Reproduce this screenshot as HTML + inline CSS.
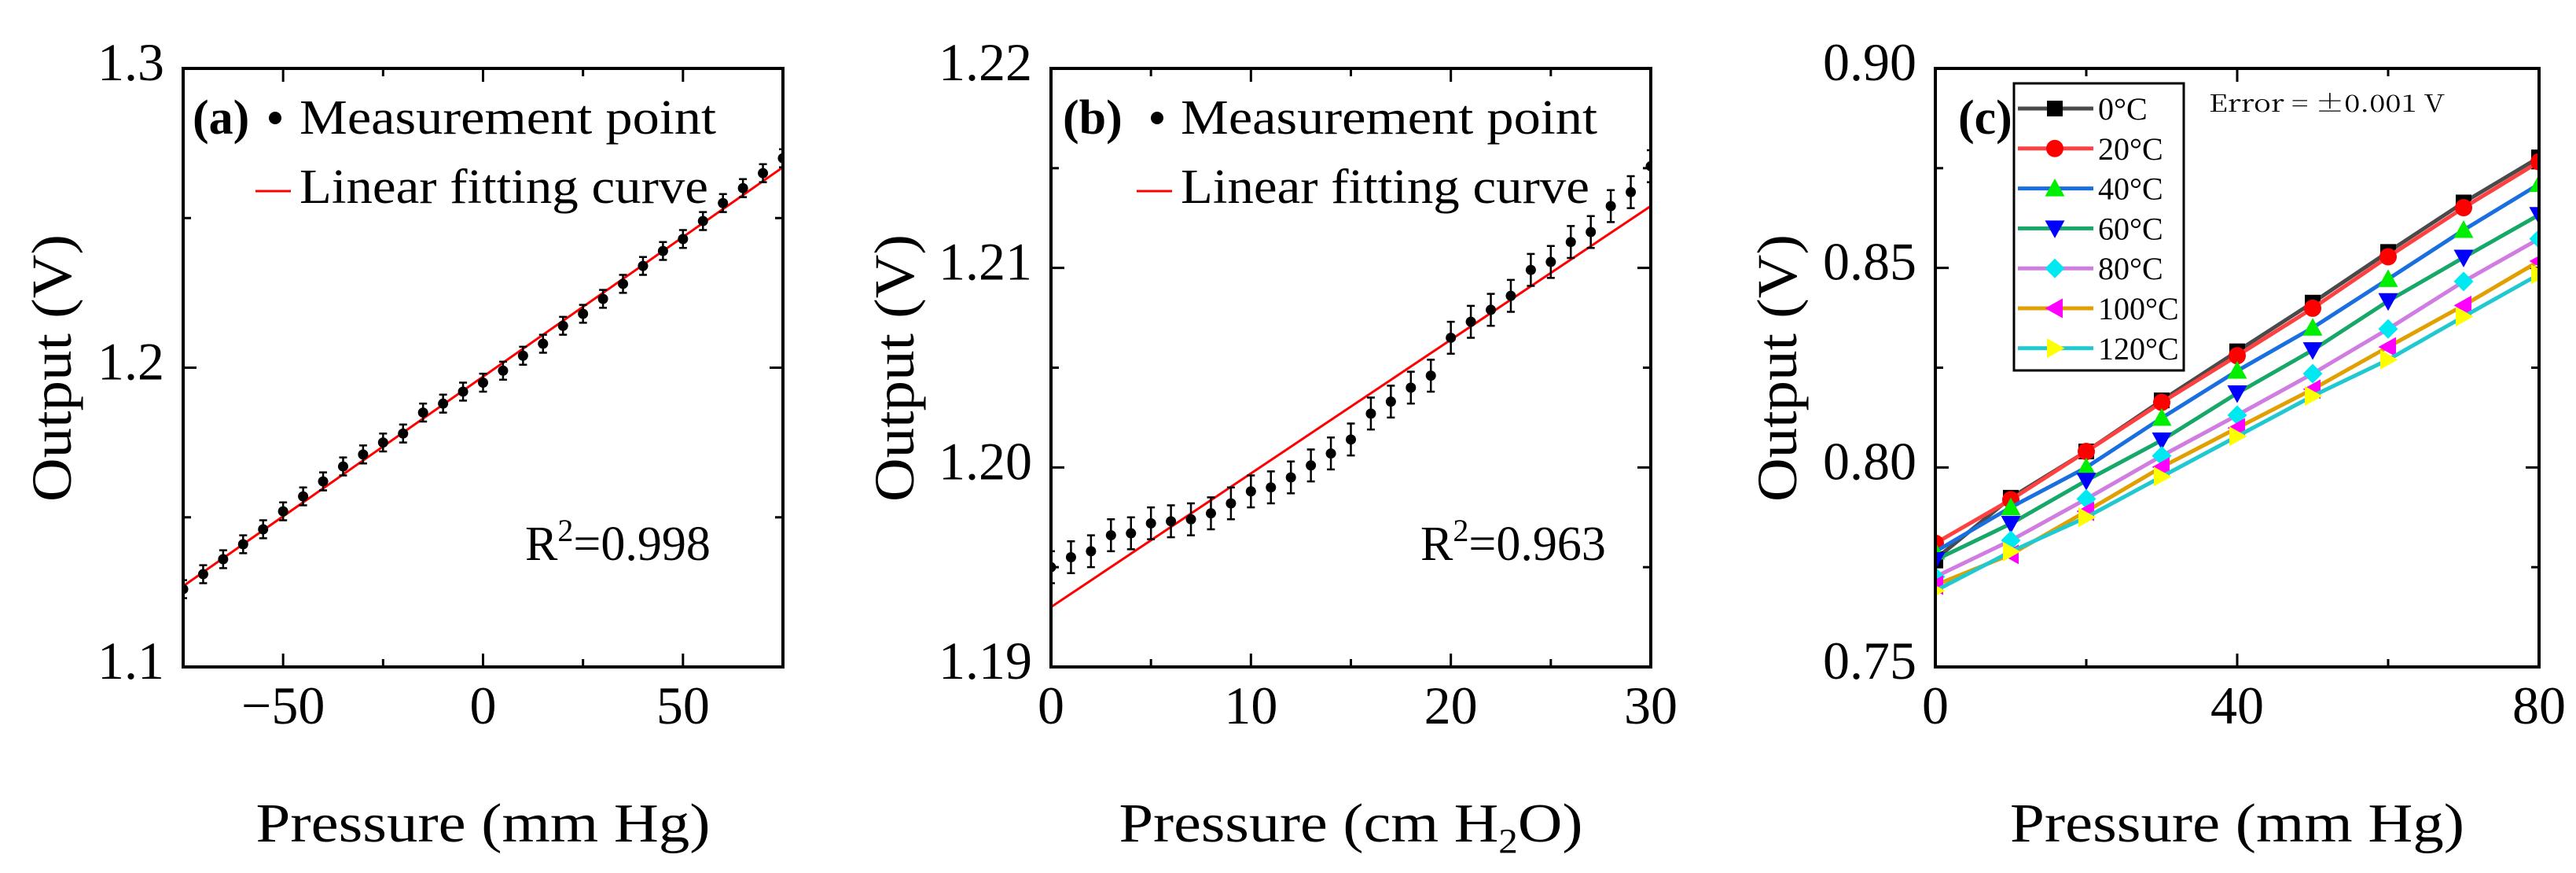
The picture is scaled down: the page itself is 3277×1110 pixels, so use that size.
<!DOCTYPE html>
<html><head><meta charset="utf-8">
<style>
html,body{margin:0;padding:0;background:#fff;}
svg{display:block;}
text{font-family:"Liberation Serif",serif;fill:#000;}
</style></head>
<body>
<svg id="fig" width="3277" height="1110" viewBox="0 0 3277 1110" xmlns="http://www.w3.org/2000/svg"></svg>
<script>
// ---- Panel (a) data ----
const aX = [-75,-70,-65,-60,-55,-50,-45,-40,-35,-30,-25,-20,-15,-10,-5,0,5,10,15,20,25,30,35,40,45,50,55,60,65,70,75];
const aY = [1.126,1.131,1.136,1.141,1.146,1.152,1.157,1.162,1.167,1.171,1.175,1.178,1.185,1.188,1.192,1.195,1.199,1.204,1.208,1.214,1.218,1.223,1.228,1.234,1.239,1.243,1.249,1.255,1.260,1.265,1.270];
const aErr = 0.003;
const aFitX = [-75,75];
const aFitY = [1.127,1.267];
const aXTicks = [-50,0,50];
const aXTickLabels = ["\u221250","0","50"];
const aYTicks = [1.1,1.2,1.3];
const aYTickLabels = ["1.1","1.2","1.3"];
// ---- Panel (b) data ----
const bX = [0,1,2,3,4,5,6,7,8,9,10,11,12,13,14,15,16,17,18,19,20,21,22,23,24,25,26,27,28,29,30];
const bY = [1.1950,1.1955,1.1958,1.1966,1.1967,1.1972,1.1973,1.1974,1.1977,1.1982,1.1988,1.1990,1.1995,1.2001,1.2007,1.2014,1.2027,1.2033,1.2040,1.2046,1.2065,1.2073,1.2079,1.2086,1.2099,1.2103,1.2113,1.2118,1.2131,1.2138,1.2151];
const bErr = 0.0008;
const bFitX = [0,30];
const bFitY = [1.1930,1.2131];
const bXTicks = [0,10,20,30];
const bXTickLabels = ["0","10","20","30"];
const bYTicks = [1.19,1.20,1.21,1.22];
const bYTickLabels = ["1.19","1.20","1.21","1.22"];
// ---- Panel (c) data ----
const cX = [0,10,20,30,40,50,60,70,80];
const cNames = ["0\u00B0C","20\u00B0C","40\u00B0C","60\u00B0C","80\u00B0C","100\u00B0C","120\u00B0C"];
const c0 = [0.777,0.7924,0.804,0.8168,0.8291,0.8413,0.854,0.8664,0.8777];
const c20 = [0.781,0.7919,0.804,0.8163,0.828,0.8399,0.8528,0.8651,0.8766];
const c40 = [0.7789,0.790,0.800,0.8124,0.8242,0.835,0.8472,0.8595,0.871];
const c60 = [0.7768,0.7859,0.7967,0.8068,0.8186,0.8294,0.8417,0.8526,0.8633];
const c80 = [0.7726,0.7817,0.7921,0.8029,0.8131,0.8235,0.8347,0.8466,0.8573];
const c100 = [0.7705,0.7782,0.789,0.8001,0.8099,0.8196,0.8302,0.8406,0.8517];
const c120 = [0.7691,0.7789,0.7875,0.7977,0.8078,0.8179,0.827,0.8378,0.8484];
const cXTicks = [0,40,80];
const cXTickLabels = ["0","40","80"];
const cYTicks = [0.75,0.80,0.85,0.90];
const cYTickLabels = ["0.75","0.80","0.85","0.90"];

const NS = "http://www.w3.org/2000/svg";
const svg = document.getElementById('fig');
function mk(tag, attrs, parent, txt){
  const e = document.createElementNS(NS, tag);
  for (const k in attrs) e.setAttribute(k, attrs[k]);
  if (txt !== undefined) e.textContent = txt;
  (parent||svg).appendChild(e);
  return e;
}
function lin(d0,d1,r0,r1){ return v => r0 + (v-d0)/(d1-d0)*(r1-r0); }

function panel(p){
  const g = mk('g',{});
  
  
  const sx = lin(p.xd[0],p.xd[1],p.L,p.R), sy = lin(p.yd[0],p.yd[1],p.B,p.T);
  // ticks
  const tg = mk('g',{stroke:'#000','stroke-width':3},g);
  
  
  for (let v=p.xd[0]; v<=p.xd[1]+1e-9; v+=p.xminor){
    const major = p.xTicks.some(t=>Math.abs(t-v)<1e-9);
    const len = major?17:10, x=sx(v);
    mk('line',{x1:x,x2:x,y1:p.B,y2:p.B-len},tg);
    mk('line',{x1:x,x2:x,y1:p.T,y2:p.T+len},tg);
  }
  for (let v=p.yd[0]; v<=p.yd[1]+1e-9; v+=p.yminor){
    const major = p.yTicks.some(t=>Math.abs(t-v)<1e-9);
    const len = major?17:10, y=sy(v);
    mk('line',{x1:p.L,x2:p.L+len,y1:y,y2:y},tg);
    mk('line',{x1:p.R,x2:p.R-len,y1:y,y2:y},tg);
  }
  // tick labels
  p.xTicks.forEach((t,i)=>{
    const e = mk('text',{x:sx(t),y:920,'font-size':68,'text-anchor':'middle'},g,p.xLabels[i]);
    
    
  });
  p.yTicks.forEach((t,i)=>{
    const e = mk('text',{x:p.L-24,y:sy(t)+15,'font-size':68,'text-anchor':'end'},g,p.yLabels[i]);
    
    
  });
  // axis titles
  const xt = mk('text',{x:(p.L+p.R)/2,y:1070,'font-size':70,'text-anchor':'middle',textLength:578,lengthAdjust:'spacingAndGlyphs'},g);
  
  
  if (p.h2o){
    xt.setAttribute('textLength', 590);
    mk('tspan',{},xt,'Pressure (cm H');
    mk('tspan',{'font-size':44,dy:14},xt,'2');
    mk('tspan',{dy:-14},xt,'O)');
  } else xt.textContent = 'Pressure (mm Hg)';
  const yt = mk('text',{x:0,y:0,'font-size':72,'text-anchor':'middle',textLength:340,lengthAdjust:'spacingAndGlyphs',transform:`translate(${p.ytx},468) rotate(-90)`},g,'Output (V)');
  
  
  // clip
  const cid = 'clip'+p.name;
  const cp = mk('clipPath',{id:cid},g);
  mk('rect',{x:p.L,y:p.T,width:p.R-p.L,height:p.B-p.T},cp);
  const plot = mk('g',{'clip-path':`url(#${cid})`},g);
  
  
  p.draw(plot,sx,sy);
  // frame
  const fr = mk('rect',{x:p.L,y:p.T,width:p.R-p.L,height:p.B-p.T,fill:'none',stroke:'#000','stroke-width':4},g);
  
  
  return {g,sx,sy};
}

function scatterFit(xs,ys,err,fx,fy){
  return function(plot,sx,sy){
    const fit = mk('line',{x1:sx(fx[0]),y1:sy(fy[0]),x2:sx(fx[1]),y2:sy(fy[1]),stroke:'#f00','stroke-width':3},plot);
    
    
    xs.forEach((x,i)=>{
      const cx=sx(x), y0=sy(ys[i]-err), y1=sy(ys[i]+err);
      const eb = mk('path',{d:`M${cx},${y0}V${y1}M${cx-5},${y0}H${cx+5}M${cx-5},${y1}H${cx+5}`,stroke:'#000','stroke-width':2.5,fill:'none'},plot);
      
      
      const pt = mk('circle',{cx:cx,cy:sy(ys[i]),r:6.5,fill:'#000'},plot);
      
      
    });
  };
}

function legendAB(g,letter,lx,dotx,textx,linex0,linex1,r2x,r2){
  const t = mk('text',{x:lx,y:170,'font-size':62,'font-weight':'bold'},g,'('+letter+')');
  
  
  const d = mk('circle',{cx:dotx,cy:150,r:8,fill:'#000'},g);
  
  
  const t1 = mk('text',{x:textx,y:170,'font-size':62,textLength:530,lengthAdjust:'spacingAndGlyphs'},g,'Measurement point');
  
  
  const l = mk('line',{x1:linex0,x2:linex1,y1:243,y2:243,stroke:'#f00','stroke-width':3},g);
  
  
  const t2 = mk('text',{x:textx,y:258,'font-size':62,textLength:520,lengthAdjust:'spacingAndGlyphs'},g,'Linear fitting curve');
  
  
  const rt = mk('text',{x:r2x,y:712,'font-size':62},g);
  
  
  mk('tspan',{},rt,'R');
  mk('tspan',{'font-size':40,dy:-24},rt,'2');
  mk('tspan',{dy:24},rt,'='+r2);
}

// Panel a
const pa = panel({name:'panel-a',L:233,R:996,T:87,B:848,xd:[-75,75],yd:[1.1,1.3],xminor:25,yminor:0.05,
  xTicks:aXTicks,xLabels:aXTickLabels,yTicks:aYTicks,yLabels:aYTickLabels,ytx:90,
  draw:scatterFit(aX,aY,aErr,aFitX,aFitY)});
legendAB(pa.g,'a',245,350,381,325,370,668,'0.998');

// Panel b
const pb = panel({name:'panel-b',L:1337,R:2100,T:87,B:848,xd:[0,30],yd:[1.19,1.22],xminor:5,yminor:0.005,
  xTicks:bXTicks,xLabels:bXTickLabels,yTicks:bYTicks,yLabels:bYTickLabels,ytx:1162,h2o:true,
  draw:scatterFit(bX,bY,bErr,bFitX,bFitY)});
legendAB(pb.g,'b',1352,1472,1502,1446,1491,1807,'0.963');

// Panel c
const cSeries = [c0,c20,c40,c60,c80,c100,c120];
const cLineColors = ['#4a4a4a','#ff4040','#1a6fe0','#16a868','#d07ce0','#e0a000','#20c8d0'];
const cMarkColors = ['#000000','#ff0000','#00ee00','#0000ff','#00e8f0','#ff00ff','#ffff00'];
const cMarkers = ['square','circle','up','down','diamond','left','right'];
function marker(parent,type,x,y,color,s){
  let e;
  if (type==='square') e = mk('rect',{x:x-s,y:y-s,width:2*s,height:2*s,fill:color},parent);
  else if (type==='circle') e = mk('circle',{cx:x,cy:y,r:s+1,fill:color},parent);
  else {
    let pts;
    const k=s*1.25;
    if (type==='up') pts=[[x,y-k],[x-k,y+k*0.8],[x+k,y+k*0.8]];
    if (type==='down') pts=[[x,y+k],[x-k,y-k*0.8],[x+k,y-k*0.8]];
    if (type==='left') pts=[[x-k,y],[x+k*0.8,y-k],[x+k*0.8,y+k]];
    if (type==='right') pts=[[x+k,y],[x-k*0.8,y-k],[x-k*0.8,y+k]];
    if (type==='diamond') pts=[[x,y-k],[x+k,y],[x,y+k],[x-k,y]];
    e = mk('polygon',{points:pts.map(p=>p.join(',')).join(' '),fill:color},parent);
  }
  return e;
}
const pc = panel({name:'panel-c',L:2462,R:3230,T:87,B:848,xd:[0,80],yd:[0.75,0.90],xminor:20,yminor:0.025,
  xTicks:cXTicks,xLabels:cXTickLabels,yTicks:cYTicks,yLabels:cYTickLabels,ytx:2285,
  draw:function(plot,sx,sy){
    cSeries.forEach((ys,si)=>{
      const sg = mk('g',{},plot);
      
      
      const ln = mk('polyline',{points:cX.map((x,i)=>sx(x)+','+sy(ys[i])).join(' '),fill:'none',stroke:cLineColors[si],'stroke-width':5},sg);
      
      
      cX.forEach((x,i)=>{
        const m = marker(sg,cMarkers[si],sx(x),sy(ys[i]),cMarkColors[si],10);
        
        
      });
    });
  }});
const pcl = mk('text',{x:2491,y:170,'font-size':62,'font-weight':'bold'},pc.g,'(c)');


const et = mk('text',{x:2810,y:142,'font-size':30,textLength:300,lengthAdjust:'spacingAndGlyphs',style:'font-family:"Noto Serif CJK SC","Liberation Serif",serif'},pc.g,'Error = \u00B10.001 V');


const lg = mk('g',{},pc.g);


mk('rect',{x:2562,y:106,width:216,height:365,fill:'#fff',stroke:'#000','stroke-width':3},lg);
cNames.forEach((n,i)=>{
  const y = 138 + i*50.8;
  const eg = mk('g',{},lg);
  
  
  mk('line',{x1:2567,x2:2663,y1:y,y2:y,stroke:cLineColors[i],'stroke-width':5},eg);
  marker(eg,cMarkers[i],2614,y,cMarkColors[i],10);
  mk('text',{x:2669,y:y+14,'font-size':40},eg,n);
});
</script>
</body></html>
